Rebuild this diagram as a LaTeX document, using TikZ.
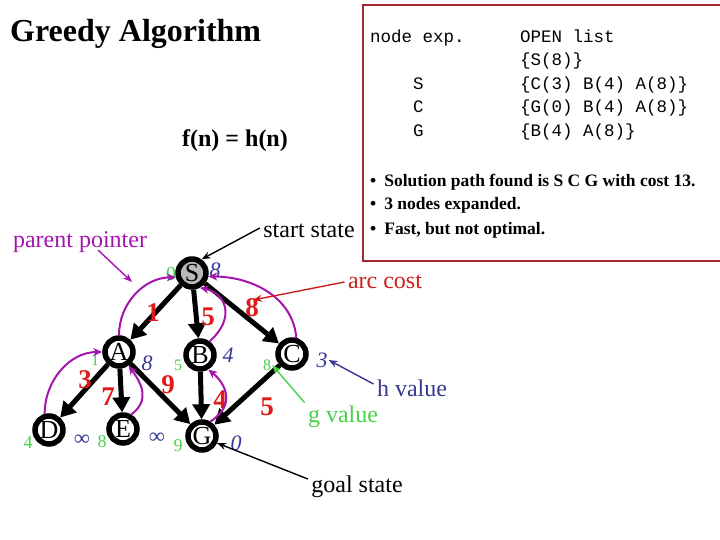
\documentclass[tikz,border=0pt]{standalone}
\usepackage{fontspec}
\setmainfont{Liberation Serif}
\setmonofont{Liberation Mono}
\usepackage{tikz}
\usetikzlibrary{arrows.meta, positioning}
\definecolor{ArcRed}{RGB}{225,25,25}
\definecolor{ArcText}{RGB}{205,30,30}
\definecolor{GGreen}{RGB}{70,210,70}
\definecolor{HBlue}{RGB}{55,55,150}
\definecolor{PPurple}{RGB}{165,20,175}
\definecolor{BoxRed}{RGB}{160,40,50}
\newcommand{\pxfont}[1]{\fontsize{#1}{#1}\selectfont}

\begin{document}
\begin{tikzpicture}[x=1pt, y=-1pt,
    state/.style={shape=circle, draw=black, fill=white, line width=5.5pt, minimum size=28pt, inner sep=0pt, font=\pxfont{26}},
    tree/.style={line width=5pt, -{Triangle[length=15pt, width=17pt]}},
    parent/.style={PPurple, line width=2pt, -{Stealth[length=9pt, width=8pt]}},
    note/.style={line width=1.4pt, -{Stealth[length=9pt, width=7pt]}},
    cost/.style={ArcRed, font=\bfseries\pxfont{27}},
    gval/.style={GGreen, font=\pxfont{16}, inner sep=1pt},
    hval/.style={HBlue, font=\itshape\pxfont{22}, inner sep=1pt},
    notetext/.style={font=\pxfont{24}},
    listline/.style={anchor=base west, font=\ttfamily\pxfont{17.5}, inner sep=0pt},
    bullet/.style={anchor=base west, font=\bfseries\pxfont{17.5}, inner sep=0pt}]
    \useasboundingbox (0,0) rectangle (720,540);

    \node[anchor=base west, inner sep=0pt, font=\bfseries\pxfont{32}] (title) at (10,42) {Greedy Algorithm};
    \node[anchor=base, inner sep=0pt, font=\bfseries\pxfont{24}] (fn) at (235,147) {f(n) = h(n)};

    \draw[BoxRed, line width=1.2pt] (363,5) rectangle (722,261);
    \node[listline] (hexp)  at (370,43)  {node exp.};
    \node[listline] (hopen) at (520,43)  {OPEN list};
    \node[listline] (o0)    at (520,66)  {\{S(8)\}};
    \node[listline] (e1)    at (413,90)  {S};
    \node[listline] (o1)    at (520,90)  {\{C(3) B(4) A(8)\}};
    \node[listline] (e2)    at (413,113) {C};
    \node[listline] (o2)    at (520,113) {\{G(0) B(4) A(8)\}};
    \node[listline] (e3)    at (413,137) {G};
    \node[listline] (o3)    at (520,137) {\{B(4) A(8)\}};
    \node[bullet] (b1) at (370,187) {\textbullet\hspace{8pt}Solution path found is S C G with cost 13.};
    \node[bullet] (b2) at (370,210) {\textbullet\hspace{8pt}3 nodes expanded.};
    \node[bullet] (b3) at (370,234) {\textbullet\hspace{8pt}Fast, but not optimal.};

    \node[state, fill=gray!55] (S) at (192,273) {S};
    \node[state] (A) at (119,352) {A};
    \node[state] (B) at (200,355) {B};
    \node[state] (C) at (292,354) {C};
    \node[state] (D) at (49,430)  {D};
    \node[state] (E) at (123,429) {E};
    \node[state] (G) at (202,436) {G};

    \path[tree] (S) edge (A) edge (B) edge (C);
    \path[tree] (A) edge (D) edge (E) edge (G);
    \path[tree] (B) edge (G);
    \path[tree] (C) edge (G);

    \node[cost] (cSA) at (153,313) {1};
    \node[cost] (cSB) at (208,317) {5};
    \node[cost] (cSC) at (252,308) {8};
    \node[cost] (cAD) at (85,380)  {3};
    \node[cost] (cAE) at (108,397) {7};
    \node[cost] (cAG) at (168,385) {9};
    \node[cost] (cBG) at (220,400) {4};
    \node[cost] (cCG) at (267,407) {5};

    \node[gval, font=\pxfont{20}] (gS) at (171,274) {0};
    \node[gval] (gA) at (95,360)  {1};
    \node[gval] (gB) at (178,365) {5};
    \node[gval] (gC) at (267,365) {8};
    \node[gval, font=\pxfont{18}] (gD) at (28,443)  {4};
    \node[gval, font=\pxfont{18}] (gE) at (102,442) {8};
    \node[gval, font=\pxfont{18}] (gG) at (178,446) {9};

    \node[hval] (hS) at (215,270) {8};
    \node[hval] (hA) at (147,363) {8};
    \node[hval] (hB) at (228,355) {4};
    \node[hval] (hC) at (322,360) {3};
    \node[hval] (hD) at (82,440)  {∞};
    \node[hval] (hE) at (157,438) {∞};
    \node[hval] (hG) at (236,443) {0};

    \draw[parent] (A.north) to[out=90, in=180] (S.195);
    \draw[parent] (B.55) .. controls (236,318) and (226,293) .. (S.-62);
    \draw[parent] (C.75) to[out=95, in=0] (S.-12);
    \draw[parent] (D.105) to[out=90, in=180] (A.west);
    \draw[parent] (E.60) .. controls (150,400) and (142,384) .. (A.-55);
    \draw[parent] (G.60) .. controls (236,405) and (226,384) .. (B.-60);

    \node[notetext, PPurple] (ppt) at (80,242) {parent pointer};
    \node[notetext] (sst) at (309,231) {start state};
    \node[notetext, ArcText] (arc) at (385,282) {arc cost};
    \node[notetext, HBlue] (hv) at (412,388) {h value};
    \node[notetext, GGreen] (gv) at (343,417) {g value};
    \node[notetext] (gs) at (357,487) {goal state};
    \coordinate (ppend) at (132,282);
    \coordinate (arcend) at (253,300);

    \draw[note, PPurple] ([xshift=18pt, yshift=6pt]ppt.south) -- (ppend);
    \draw[note] ([yshift=3pt]sst.west) -- (S.55);
    \draw[note, ArcText] (arc.west) -- (arcend);
    \draw[note, HBlue] ([yshift=4pt]hv.west) -- (hC.east);
    \draw[note, GGreen] (gv.north west) -- (gC.east);
    \draw[note] ([yshift=8pt]gs.west) -- (G.-25);
\end{tikzpicture}
\end{document}
